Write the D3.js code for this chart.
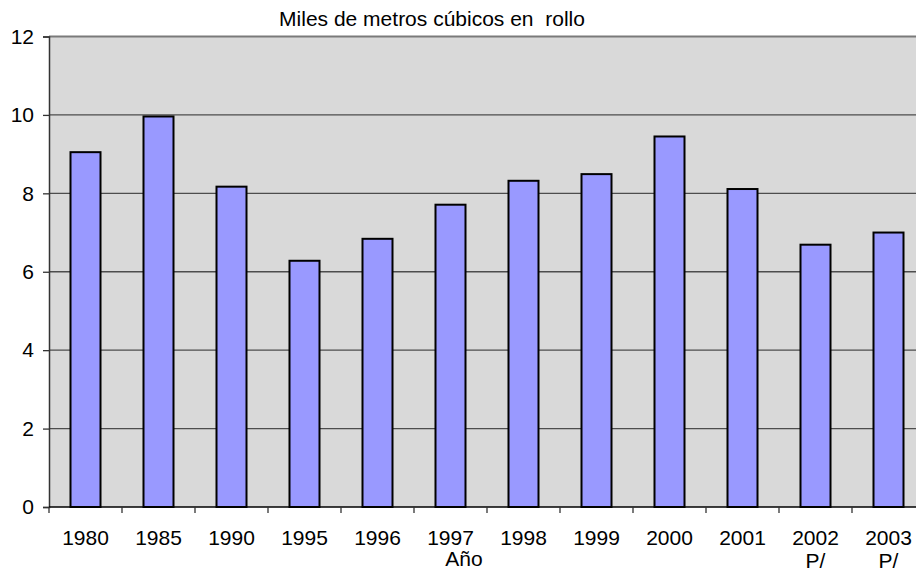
<!DOCTYPE html>
<html>
<head>
<meta charset="utf-8">
<script src="https://cdn.jsdelivr.net/npm/d3@7"></script>
<style>
  body { margin: 0; background: #fff; }
  svg { display: block; font-family: Arial, "Liberation Sans", sans-serif; }
</style>
</head>
<body>
<svg id="chart"></svg>
<script>
// Data
const years = ["1980", "1985", "1990", "1995", "1996", "1997", "1998", "1999", "2000", "2001", "2002", "2003"];
const volumes = [9.05, 9.96, 8.17, 6.28, 6.84, 7.71, 8.32, 8.49, 9.45, 8.11, 6.69, 7.0];
const notes = ["", "", "", "", "", "", "", "", "", "", "P/", "P/"];
const yTicks = [0, 2, 4, 6, 8, 10, 12];

const W = 916, H = 574;
const margin = { top: 36.5, left: 49 };
const width = 876;      // plot runs a little past the right edge, as in the original
const height = 470.5;

const svg = d3.select("#chart")
    .attr("width", W)
    .attr("height", H);

const g = svg.append("g")
    .attr("transform", `translate(${margin.left},${margin.top})`);

// one band per year, ticks sit on the band boundaries
const xCat = d3.scaleBand().domain(years).range([0, width]);

const y = d3.scaleLinear()
    .domain([0, 12])
    .range([height, 0]);

// plot background
g.append("rect")
    .attr("width", width)
    .attr("height", height)
    .attr("fill", "#d9d9d9");

// gridlines
g.selectAll(".grid")
    .data(yTicks.filter(d => d > 0))
    .enter().append("line")
    .attr("x1", 0)
    .attr("x2", width)
    .attr("y1", d => y(d))
    .attr("y2", d => y(d))
    .attr("stroke", d => d === 12 ? "#7a7a7a" : "#4d4d4d")
    .attr("stroke-width", d => d === 12 ? 2 : 1.3);

// bars
g.selectAll(".bar")
    .data(years)
    .enter().append("rect")
    .attr("class", "bar")
    .attr("x", d => xCat(d) + xCat.bandwidth() / 2 - 15)
    .attr("y", (d, i) => y(volumes[i]))
    .attr("width", 30)
    .attr("height", (d, i) => height - y(volumes[i]))
    .attr("fill", "#9999ff")
    .attr("stroke", "#000")
    .attr("stroke-width", 2);

// y axis
const yAxis = g.append("g")
    .call(d3.axisLeft(y).tickValues(yTicks).tickSize(6).tickPadding(9));
yAxis.select(".domain").attr("stroke", "#333").attr("stroke-width", 1.5);
yAxis.selectAll(".tick line").attr("stroke", "#333").attr("stroke-width", 1.3);
yAxis.selectAll(".tick text")
    .attr("font-size", 21)
    .attr("fill", "#000")
    .attr("font-family", "Arial, 'Liberation Sans', sans-serif");

// x axis
const xAxisG = g.append("g")
    .attr("transform", `translate(0,${height})`);
xAxisG.append("line")
    .attr("x1", 0).attr("x2", width)
    .attr("stroke", "#000").attr("stroke-width", 1.5);
xAxisG.selectAll(".xtick")
    .data(years)
    .enter().append("line")
    .attr("x1", d => xCat(d))
    .attr("x2", d => xCat(d))
    .attr("y1", 0)
    .attr("y2", 6)
    .attr("stroke", "#333")
    .attr("stroke-width", 1.3);

xAxisG.selectAll(".xlabel")
    .data(years)
    .enter().append("text")
    .attr("x", d => xCat(d) + xCat.bandwidth() / 2)
    .attr("y", 38)
    .attr("text-anchor", "middle")
    .attr("font-size", 21)
    .text(d => d);

xAxisG.selectAll(".note")
    .data(years)
    .enter().append("text")
    .attr("x", d => xCat(d) + xCat.bandwidth() / 2)
    .attr("y", 61)
    .attr("text-anchor", "middle")
    .attr("font-size", 21)
    .text((d, i) => notes[i]);

// title and axis title
svg.append("text")
    .attr("x", 432)
    .attr("y", 26)
    .attr("text-anchor", "middle")
    .attr("font-size", 21)
    .attr("xml:space", "preserve")
    .style("white-space", "pre")
    .text("Miles de metros cúbicos en  rollo");

svg.append("text")
    .attr("x", 464)
    .attr("y", 566)
    .attr("text-anchor", "middle")
    .attr("font-size", 21)
    .text("Año");
</script>
</body>
</html>
